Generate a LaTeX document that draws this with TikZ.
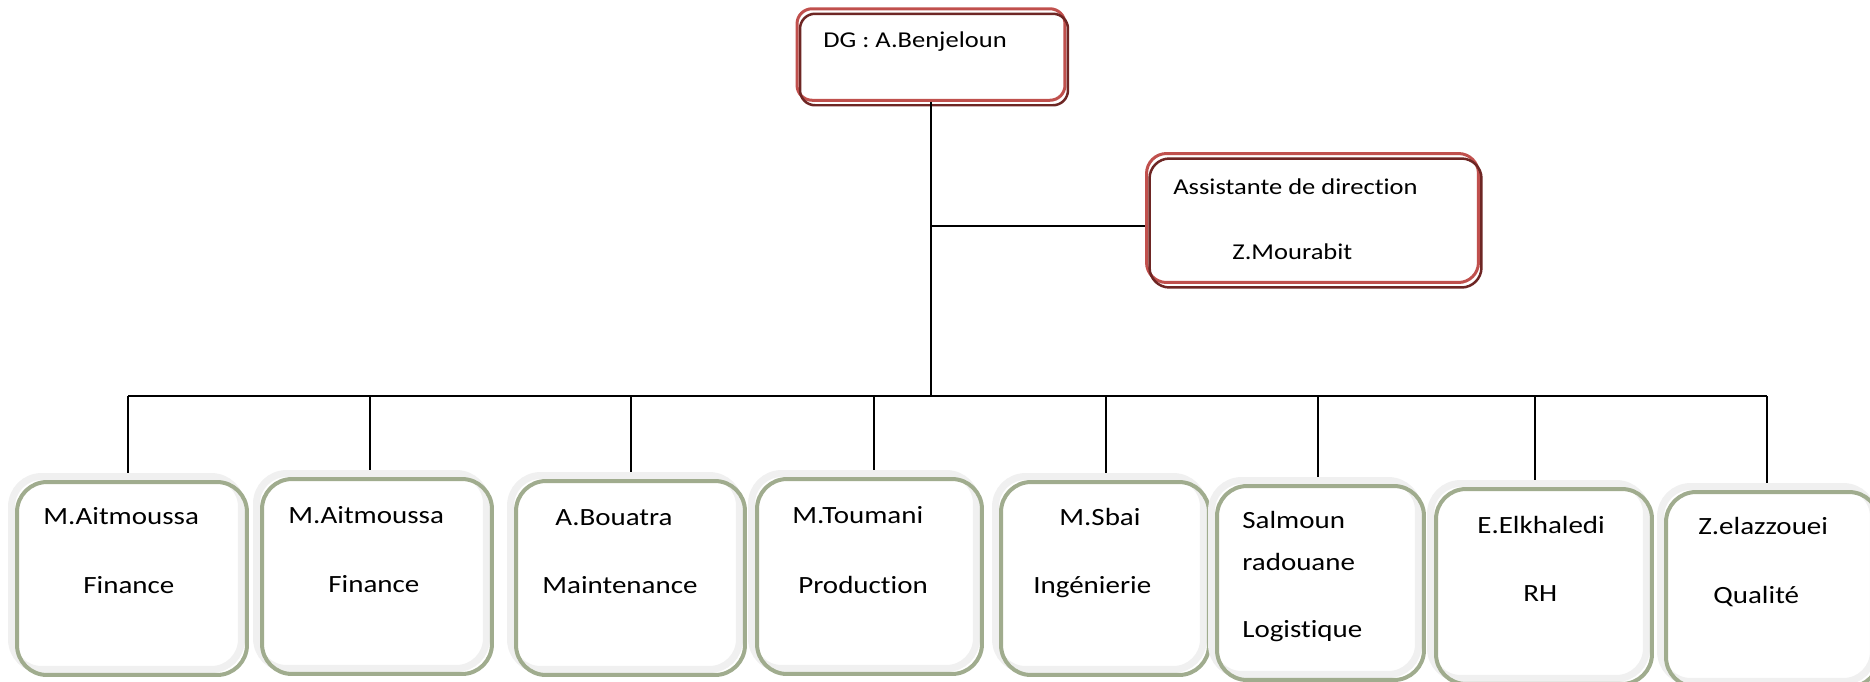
\documentclass[tikz,border=0pt]{standalone}
\usepackage{fontspec}
\setmainfont{Carlito}[FakeStretch=1.17,Ligatures=NoCommon]
\usetikzlibrary{calc}
\definecolor{boxred}{RGB}{192,80,77}
\definecolor{darkred}{RGB}{110,38,36}
\definecolor{boxgrey}{RGB}{240,240,240}
\definecolor{boxgreen}{RGB}{160,172,142}

\begin{document}
\begin{tikzpicture}[x=0.02cm,y=-0.02cm,
  redbox/.style={draw=boxred,line width=0.06cm,rounded corners=0.3cm,fill=white,
    postaction={draw=darkred,line width=0.05cm,transform canvas={xshift=0.06cm,yshift=-0.1cm}}},
  greenbox/.style={draw=boxgrey,line width=0.14cm,rounded corners=0.6cm,fill=white,
    postaction={draw=boxgreen,line width=0.08cm,transform canvas={xshift=0.11cm,yshift=-0.11cm}}},
  txt/.style={anchor=base west,inner sep=0pt,font=\fontsize{12.9}{15}\selectfont},
  dtxt/.style={txt,font=\fontsize{14.1}{16}\selectfont},
  link/.style={line width=0.9pt}]
\path[use as bounding box,clip] (0,0) rectangle (1870,681);
% Head of the company and the assistant
\node[redbox,minimum width=5.36cm,minimum height=1.83cm] (dg) at (931,54.5) {};
\node[redbox,rounded corners=0.4cm,minimum width=6.64cm,minimum height=2.58cm] (as) at (1312.5,218) {};
\node[txt] (dgname) at (823,47) {DG : A.Benjeloun};
\node[txt] (astitle) at (1173,194) {Assistante de direction};
\node[txt] (asname) at (1232,259) {Z.Mourabit};
% Departments
\node[greenbox,minimum width=4.6cm,minimum height=3.86cm] (b1) at (126.5,573) {};
\node[greenbox,minimum width=4.6cm,minimum height=3.9cm] (b2) at (371.5,571) {};
\node[greenbox,minimum width=4.58cm,minimum height=3.88cm] (b3) at (625,572.5) {};
\node[greenbox,minimum width=4.5cm,minimum height=3.9cm] (b4) at (864,571) {};
\node[greenbox,minimum width=4.16cm,minimum height=3.86cm] (b5) at (1099.5,573) {};
\node[greenbox,minimum width=4.14cm,minimum height=3.88cm] (b6) at (1315,577.5) {};
\node[greenbox,minimum width=4.32cm,minimum height=3.9cm] (b7) at (1538.5,581) {};
\node[greenbox,minimum width=4.26cm,minimum height=3.9cm] (b8) at (1767,584) {};
% Names and services
\node[dtxt] (n1) at (43,524) {M.Aitmoussa};
\node[dtxt] (s1) at (83,593) {Finance};
\node[dtxt] (n2) at (288,523) {M.Aitmoussa};
\node[dtxt] (s2) at (328,592) {Finance};
\node[dtxt] (n3) at (555,525) {A.Bouatra};
\node[dtxt] (s3) at (542,593) {Maintenance};
\node[dtxt] (n4) at (792,523) {M.Toumani};
\node[dtxt] (s4) at (798,593) {Production};
\node[dtxt] (n5) at (1059,525) {M.Sbai};
\node[dtxt] (s5) at (1033,593) {Ingénierie};
\node[dtxt] (n6) at (1242,528) {Salmoun};
\node[dtxt] (n6b) at (1242,570) {radouane};
\node[dtxt] (s6) at (1242,637) {Logistique};
\node[dtxt] (n7) at (1477,533) {E.Elkhaledi};
\node[dtxt] (s7) at (1523,601) {RH};
\node[dtxt] (n8) at (1698,534) {Z.elazzouei};
\node[dtxt] (s8) at (1713,603) {Qualité};
% Junctions on the horizontal line
\coordinate (ja) at (931,226);
\coordinate (j1) at (128,396);
\coordinate (j2) at (370,396);
\coordinate (j3) at (631,396);
\coordinate (j4) at (874,396);
\coordinate (j5) at (1106,396);
\coordinate (j6) at (1318,396);
\coordinate (j7) at (1535,396);
\coordinate (j8) at (1767,396);
% Connectors
\draw[link] (dg.south) -- (dg.south |- j1);
\draw[link] (ja) -- (ja -| as.west);
\draw[link] (j1) -- (j8);
\draw[link] (j1) -- (j1 |- b1.north);
\draw[link] (j2) -- (j2 |- b2.north);
\draw[link] (j3) -- (j3 |- b3.north);
\draw[link] (j4) -- (j4 |- b4.north);
\draw[link] (j5) -- (j5 |- b5.north);
\draw[link] (j6) -- (j6 |- b6.north);
\draw[link] (j7) -- (j7 |- b7.north);
\draw[link] (j8) -- (j8 |- b8.north);
\end{tikzpicture}
\end{document}
